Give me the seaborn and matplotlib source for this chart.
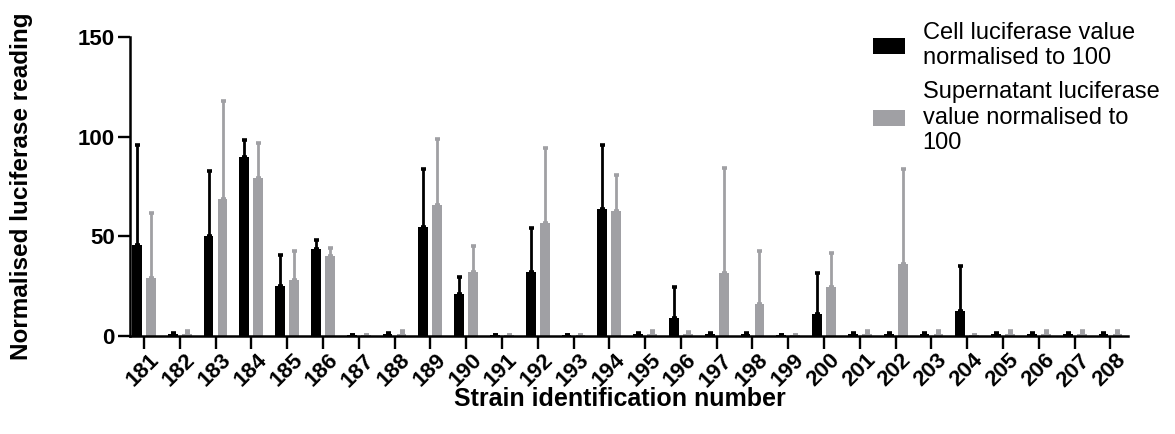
import numpy as np
import pandas as pd
import matplotlib
matplotlib.use("Agg")
import matplotlib.pyplot as plt
import matplotlib.transforms as mtransforms
import seaborn as sns

strains = [str(s) for s in range(181, 209)]

# means
cell = [45.7, 0.8, 50.3, 90.0, 25.3, 43.5, 0.3, 0.8, 54.5, 21.0, 0.3, 32.3, 0.3, 63.6,
        0.8, 8.9, 0.8, 0.8, 0.3, 11.2, 0.8, 0.8, 0.8, 12.5, 0.8, 0.8, 0.8, 0.8]
sup = [29.0, 0.8, 68.6, 79.1, 27.9, 40.3, 0.3, 0.8, 65.7, 32.0, 0.3, 56.5, 0.3, 62.9,
       0.8, 0.8, 31.4, 16.0, 0.3, 24.4, 0.8, 36.0, 0.8, 0.4, 0.8, 0.8, 0.8, 0.8]
# upper error (SD) above each bar
cell_sd = [50.1, 0.5, 32.5, 8.3, 15.2, 4.7, 0.0, 0.5, 29.1, 8.8, 0.0, 21.7, 0.0, 32.4,
           0.5, 15.8, 0.5, 0.5, 0.0, 20.2, 0.5, 0.5, 0.5, 22.6, 0.5, 0.5, 0.5, 0.5]
sup_sd = [32.6, 1.8, 49.3, 17.9, 14.9, 3.7, 0.0, 1.9, 33.0, 13.2, 0.0, 38.0, 0.0, 17.7,
          1.5, 1.2, 53.1, 26.8, 0.0, 17.4, 1.7, 47.8, 1.7, 0.0, 1.7, 1.7, 1.7, 1.7]

series = ["Cell luciferase value\nnormalised to 100",
          "Supernatant luciferase\nvalue normalised to\n100"]
colors = ["#000000", "#A0A0A4"]

df = pd.DataFrame({
    "strain": strains * 2,
    "value": cell + sup,
    "series": [series[0]] * len(strains) + [series[1]] * len(strains),
})

sns.set_style("ticks")
plt.rcParams["font.family"] = ["Liberation Sans", "DejaVu Sans"]
for key in ["text.color", "axes.labelcolor", "xtick.color", "ytick.color", "axes.edgecolor"]:
    plt.rcParams[key] = "black"

fig = plt.figure(figsize=(11.75, 4.34), dpi=100)
ax = fig.add_axes([130 / 1175, 1 - 336 / 434, 998 / 1175, 299 / 434])

sns.barplot(data=df, x="strain", y="value", hue="series", palette=colors,
            width=0.78, gap=0.3, linewidth=0, ax=ax)

# upward-only error bars, matched to each hue container
for cont, sd, col in zip(ax.containers, [cell_sd, sup_sd], colors):
    xs = [p.get_x() + p.get_width() / 2 for p in cont.patches]
    hs = [p.get_height() for p in cont.patches]
    ax.errorbar(xs, hs, yerr=[np.zeros(len(sd)), sd], fmt="none", ecolor=col,
                elinewidth=2.0, capsize=1.8, capthick=2.6, zorder=1)

ax.set_xlim(-0.39, 27.49)
ax.set_ylim(0, 150)
ax.set_yticks([0, 50, 100, 150])

for side in ["top", "right"]:
    ax.spines[side].set_visible(False)
for side in ["left", "bottom"]:
    ax.spines[side].set_linewidth(1.8)
ax.tick_params(axis="both", width=1.7, length=9, labelsize=16)
ax.tick_params(axis="y", pad=2)
ax.tick_params(axis="x", pad=1)
for lab in ax.get_yticklabels():
    lab.set_fontweight("bold")
shift = mtransforms.ScaledTranslation(5 / 100, 0, fig.dpi_scale_trans)
for lab in ax.get_xticklabels():
    lab.set_fontweight("bold")
    lab.set_rotation(45)
    lab.set_ha("right")
    lab.set_va("top")
    lab.set_rotation_mode("anchor")
    lab.set_transform(lab.get_transform() + shift)

ax.set_xlabel("Strain identification number", fontsize=18, fontweight="bold")
ax.set_ylabel("Normalised luciferase reading", fontsize=17.5, fontweight="bold")
ax.xaxis.set_label_coords(0.491, -0.171)
ax.yaxis.set_label_coords(-0.097, 0.502)

handles, labels = ax.get_legend_handles_labels()
ax.legend(handles, labels, loc="upper left", bbox_to_anchor=(873 / 1175, 1 - 22 / 434),
          bbox_transform=fig.transFigure, frameon=False, fontsize=17,
          handlelength=1.35, handleheight=0.63, handletextpad=0.75,
          labelspacing=0.5, borderpad=0, borderaxespad=0)

fig.savefig("out.png", dpi=100)
